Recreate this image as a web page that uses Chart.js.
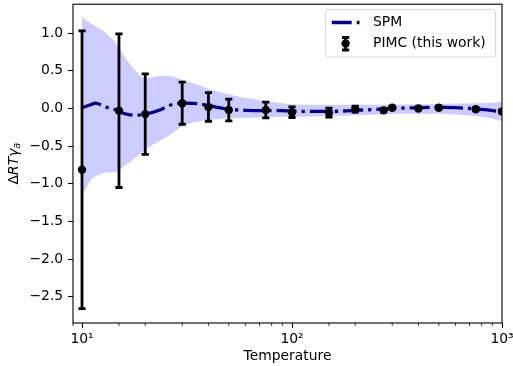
<!DOCTYPE html>
<html>
<head>
<meta charset="utf-8">
<script src="https://cdn.jsdelivr.net/npm/chart.js@4.4.0/dist/chart.umd.min.js"></script>
<style>
html, body { margin: 0; padding: 0; background: #fff; }
#wrap { width: 513px; height: 366px; }
</style>
</head>
<body>
<div id="wrap"><canvas id="chart" width="513" height="366"></canvas></div>
<script>
// SPM curve and its uncertainty band
var spmT   = [10, 11, 11.6, 12.5, 13, 14.5, 16, 18, 20, 23.5, 26, 30, 35, 40, 45, 50, 60, 75, 90, 110, 150, 200, 260, 300, 400, 500, 600, 750, 850, 1000];
var spmY   = [0.01, 0.05, 0.07, 0.04, 0.02, -0.02, -0.07, -0.09, -0.075, -0.02, 0.04, 0.07, 0.065, 0.04, 0.01, -0.01, -0.025, -0.03, -0.03, -0.04, -0.04, -0.025, -0.01, 0.0, 0.01, 0.015, 0.01, -0.005, -0.02, -0.045];
var bandHi = [1.21, 1.13, 1.09, 1.04, 1.0, 0.87, 0.68, 0.50, 0.40, 0.43, 0.43, 0.38, 0.32, 0.26, 0.22, 0.19, 0.14, 0.10, 0.07, 0.05, 0.05, 0.05, 0.05, 0.05, 0.055, 0.06, 0.065, 0.07, 0.075, 0.085];
var bandLo = [-1.17, -0.95, -0.90, -0.86, -0.85, -0.84, -0.76, -0.65, -0.55, -0.43, -0.36, -0.24, -0.18, -0.15, -0.14, -0.13, -0.125, -0.12, -0.11, -0.11, -0.10, -0.09, -0.08, -0.075, -0.07, -0.07, -0.08, -0.10, -0.12, -0.17];

// PIMC points with symmetric error bars
var pimcT   = [10, 15, 20, 30, 40, 50, 75, 100, 150, 200, 273, 300, 400, 500, 750, 1000];
var pimcY   = [-0.815, -0.03, -0.075, 0.07, 0.02, -0.02, -0.02, -0.05, -0.055, -0.01, -0.025, 0.01, 0.0, 0.01, -0.01, -0.04];
var pimcErr = [1.845, 1.02, 0.535, 0.28, 0.19, 0.145, 0.105, 0.07, 0.06, 0.04, 0.02, 0.02, 0.02, 0.02, 0.02, 0.02];

var xTickLabels = {10: '10¹', 100: '10²', 1000: '10³'};

var FONT = "'DejaVu Sans', sans-serif";
var FSIZE = 13.9;
var NAVY = '#00008b';
var SPM_DASH = [20, 5, 3.3, 5];

function isPow10(v) {
    var l = Math.log10(v);
    return Math.abs(l - Math.round(l)) < 1e-9;
}

function pts(xs, ys) {
    return xs.map(function(x, i) { return {x: x, y: ys[i]}; });
}

var errorBars = {
    id: 'errorBars',
    afterDatasetDraw: function(chart, args) {
        if (args.index !== 2) return;
        var ctx = chart.ctx, xs = chart.scales.x, ys = chart.scales.y, a = chart.chartArea;
        ctx.save();
        ctx.beginPath();
        ctx.rect(a.left, a.top, a.right - a.left, a.bottom - a.top);
        ctx.clip();
        ctx.strokeStyle = '#000';
        ctx.lineWidth = 2.8;
        pimcT.forEach(function(t, i) {
            var px = xs.getPixelForValue(t);
            var top = ys.getPixelForValue(pimcY[i] + pimcErr[i]);
            var bot = ys.getPixelForValue(pimcY[i] - pimcErr[i]);
            ctx.beginPath();
            ctx.moveTo(px, top); ctx.lineTo(px, bot);
            ctx.moveTo(px - 3.6, top); ctx.lineTo(px + 3.6, top);
            ctx.moveTo(px - 3.6, bot); ctx.lineTo(px + 3.6, bot);
            ctx.stroke();
        });
        ctx.restore();
    }
};

var frame = {
    id: 'frame',
    afterDraw: function(chart) {
        var ctx = chart.ctx, a = chart.chartArea, xs = chart.scales.x;
        ctx.save();
        // minor ticks on the log axis
        ctx.strokeStyle = '#000';
        ctx.lineWidth = 0.85;
        xs.ticks.forEach(function(t) {
            if (isPow10(t.value) || t.value < xs.min || t.value > xs.max) return;
            var px = xs.getPixelForValue(t.value);
            ctx.beginPath();
            ctx.moveTo(px, a.bottom); ctx.lineTo(px, a.bottom + 2.8);
            ctx.stroke();
        });
        // spines
        ctx.lineWidth = 1.1;
        ctx.strokeRect(a.left, a.top, a.right - a.left, a.bottom - a.top);

        // y axis label: Delta R T gamma_a
        ctx.translate(14.5, (a.top + a.bottom) / 2);
        ctx.rotate(-Math.PI / 2);
        ctx.fillStyle = '#000';
        ctx.textBaseline = 'middle';
        ctx.textAlign = 'left';
        var up = FSIZE + 'px ' + FONT, it = 'oblique ' + FSIZE + 'px ' + FONT, sub = 'oblique ' + (FSIZE * 0.7) + 'px ' + FONT;
        ctx.font = up; var w1 = ctx.measureText('Δ').width;
        ctx.font = it; var w2 = ctx.measureText('RTγ').width;
        ctx.font = sub; var w3 = ctx.measureText('a').width;
        var x0 = -(w1 + w2 + w3) / 2;
        ctx.font = up; ctx.fillText('Δ', x0, 0);
        ctx.font = it; ctx.fillText('RTγ', x0 + w1, 0);
        ctx.font = sub; ctx.fillText('a', x0 + w1 + w2, 3);
        ctx.restore();

        // legend
        ctx.save();
        var lx = 325.5, ly = 9.5, lw = 170, lh = 47.5, r = 3;
        ctx.beginPath();
        ctx.moveTo(lx + r, ly);
        ctx.arcTo(lx + lw, ly, lx + lw, ly + lh, r);
        ctx.arcTo(lx + lw, ly + lh, lx, ly + lh, r);
        ctx.arcTo(lx, ly + lh, lx, ly, r);
        ctx.arcTo(lx, ly, lx + lw, ly, r);
        ctx.closePath();
        ctx.fillStyle = 'rgba(255,255,255,0.8)';
        ctx.fill();
        ctx.strokeStyle = 'rgba(204,204,204,0.8)';
        ctx.lineWidth = 1;
        ctx.stroke();

        ctx.strokeStyle = NAVY;
        ctx.lineWidth = 3.3;
        ctx.setLineDash(SPM_DASH);
        ctx.beginPath();
        ctx.moveTo(331.7, 22.5); ctx.lineTo(359.5, 22.5);
        ctx.stroke();
        ctx.setLineDash([]);

        var ex = 345.6, ey = 43.5;
        ctx.strokeStyle = '#000';
        ctx.lineWidth = 2.8;
        ctx.beginPath();
        ctx.moveTo(ex, ey - 6); ctx.lineTo(ex, ey + 6.5);
        ctx.moveTo(ex - 3.6, ey - 6); ctx.lineTo(ex + 3.6, ey - 6);
        ctx.moveTo(ex - 3.6, ey + 6.5); ctx.lineTo(ex + 3.6, ey + 6.5);
        ctx.stroke();
        ctx.fillStyle = '#000';
        ctx.beginPath();
        ctx.arc(ex, ey, 4.2, 0, Math.PI * 2);
        ctx.fill();

        ctx.font = FSIZE + 'px ' + FONT;
        ctx.textBaseline = 'middle';
        ctx.textAlign = 'left';
        ctx.fillText('SPM', 373, 22.5);
        ctx.fillText('PIMC (this work)', 373, 43.5);
        ctx.restore();
    }
};

var config = {
    type: 'line',
    data: {
        datasets: [{
            label: 'band upper',
            data: pts(spmT, bandHi),
            borderWidth: 0,
            pointRadius: 0,
            fill: false,
            cubicInterpolationMode: 'monotone',
            order: 4
        }, {
            label: 'band lower',
            data: pts(spmT, bandLo),
            borderWidth: 0,
            pointRadius: 0,
            fill: '-1',
            backgroundColor: 'rgba(0,0,255,0.2)',
            cubicInterpolationMode: 'monotone',
            order: 3
        }, {
            label: 'SPM',
            data: pts(spmT, spmY),
            borderColor: NAVY,
            borderWidth: 3.3,
            borderDash: SPM_DASH,
            pointRadius: 0,
            fill: false,
            cubicInterpolationMode: 'monotone',
            order: 2
        }, {
            label: 'PIMC (this work)',
            data: pts(pimcT, pimcY),
            showLine: false,
            pointRadius: 4.2,
            pointBackgroundColor: '#000',
            pointBorderWidth: 0,
            clip: 0,
            order: 1
        }]
    },
    options: {
        responsive: false,
        animation: false,
        devicePixelRatio: 1,
        layout: { padding: { left: 0, right: 11, top: 3, bottom: 0 } },
        plugins: {
            legend: { display: false },
            tooltip: { enabled: false }
        },
        scales: {
            x: {
                type: 'logarithmic',
                min: 9.06,
                max: 1000,
                afterFit: function(s) { s.height = 43; s.paddingLeft = 0; s.paddingRight = 0; },
                grid: {
                    drawOnChartArea: false,
                    drawTicks: true,
                    tickLength: 4.9,
                    tickWidth: 1.1,
                    tickColor: function(c) { return (c.tick && isPow10(c.tick.value)) ? '#000' : 'rgba(0,0,0,0)'; }
                },
                border: { display: false },
                ticks: {
                    autoSkip: false,
                    maxRotation: 0,
                    padding: 3,
                    color: '#000',
                    font: { family: FONT, size: FSIZE },
                    callback: function(v) { return xTickLabels[v] || ''; }
                },
                title: {
                    display: true,
                    text: 'Temperature',
                    color: '#000',
                    font: { family: FONT, size: FSIZE },
                    padding: { top: 0, bottom: 1 }
                }
            },
            y: {
                min: -2.85,
                max: 1.385,
                afterFit: function(s) { s.width = 73; s.paddingTop = 0; s.paddingBottom = 0; },
                grid: {
                    drawOnChartArea: false,
                    drawTicks: true,
                    tickLength: 4.9,
                    tickWidth: 1.1,
                    tickColor: '#000'
                },
                border: { display: false },
                ticks: {
                    stepSize: 0.5,
                    includeBounds: false,
                    padding: 4.9,
                    color: '#000',
                    font: { family: FONT, size: FSIZE },
                    callback: function(v) { return v.toFixed(1).replace('-', '\u2212'); }
                }
            }
        }
    },
    plugins: [errorBars, frame]
};

var ctx = document.getElementById('chart');
window.myChart = new Chart(ctx, config);
</script>
</body>
</html>
